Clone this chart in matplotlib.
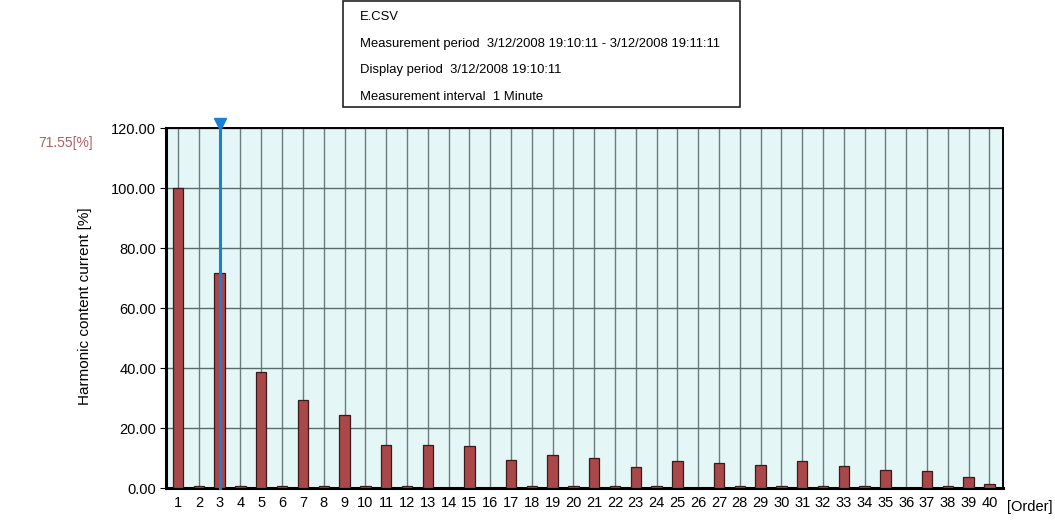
import matplotlib
matplotlib.use("Agg")
import matplotlib.pyplot as plt

# Harmonic orders and content (% of fundamental)
orders = list(range(1, 41))
content = [100.0, 0.7, 71.55, 0.7, 38.8, 0.7, 29.5, 0.7, 24.4, 0.7,
           14.5, 0.7, 14.5, 0.0, 13.9, 0.0, 9.4, 0.7, 11.1, 0.7,
           9.9, 0.7, 6.9, 0.7, 8.9, 0.0, 8.2, 0.7, 7.8, 0.7,
           8.9, 0.7, 7.4, 0.7, 6.0, 0.0, 5.6, 0.7, 3.6, 1.4]
cursor_order = 3
y_ticks = [0, 20, 40, 60, 80, 100, 120]
info_lines = ["E.CSV",
              "Measurement period  3/12/2008 19:10:11 - 3/12/2008 19:11:11",
              "Display period  3/12/2008 19:10:11",
              "Measurement interval  1 Minute"]

plt.rcParams["font.family"] = ["Liberation Sans", "DejaVu Sans"]

W, H = 1055, 521
fig = plt.figure(figsize=(W / 100, H / 100), dpi=100)
ax = fig.add_axes([166 / W, 1 - 488 / H, (1003 - 166) / W, (488 - 128) / H])
ax.set_facecolor("#e4f6f6")

ax.set_xlim(0.42, 40.65)
ax.set_ylim(0, 120)

# grid
for o in orders:
    ax.axvline(o, color="#6a7c7c", lw=1.0, zorder=1)
for t in y_ticks[1:]:
    ax.axhline(t, color="#5a6c6c", lw=1.0, zorder=1)

ax.bar(orders, content, width=0.5, color="#a84848", edgecolor="#3a1a1a",
       linewidth=0.9, zorder=3)

# cursor
ax.plot([cursor_order, cursor_order], [0, 120], color="#1a7fd8", lw=2.2,
        zorder=5, clip_on=False)
ax.plot([cursor_order], [121.5], marker="v", color="#1a7fd8", markersize=8,
        zorder=6, clip_on=False)

ax.set_yticks(y_ticks)
ax.set_yticklabels([f"{t:.2f}" for t in y_ticks], fontsize=10.5)
ax.set_xticks(orders)
ax.set_xticklabels([str(o) for o in orders], fontsize=10.5)
ax.tick_params(axis="x", length=0, pad=6)
ax.tick_params(axis="y", length=4, pad=3, direction="out")
for s in ["left", "bottom"]:
    ax.spines[s].set_linewidth(2.2)
for s in ["top", "right"]:
    ax.spines[s].set_linewidth(1.4)

ax.set_ylabel("Harmonic content current [%]", fontsize=11)
ax.yaxis.set_label_coords((92 - 166) / (1003 - 166), (488 - 306) / 360)

fig.text(1030 / W, 1 - 507 / H, "[Order]", fontsize=10.5, ha="center", va="center")
fig.text(38 / W, 1 - 143 / H, f"{content[cursor_order - 1]:.2f}[%]",
         fontsize=10, color="#b06060", ha="left", va="center")

# info box
box = plt.Rectangle((343 / W, 1 - 107 / H), (740 - 343) / W, 107 / H - 0.002,
                    transform=fig.transFigure, fill=False, edgecolor="#222222",
                    lw=1.2)
fig.add_artist(box)
for i, line in enumerate(info_lines):
    fig.text(360 / W, 1 - (17 + 26.5 * i) / H, line, fontsize=9.4,
             ha="left", va="center")

fig.savefig("out.png", dpi=100)
